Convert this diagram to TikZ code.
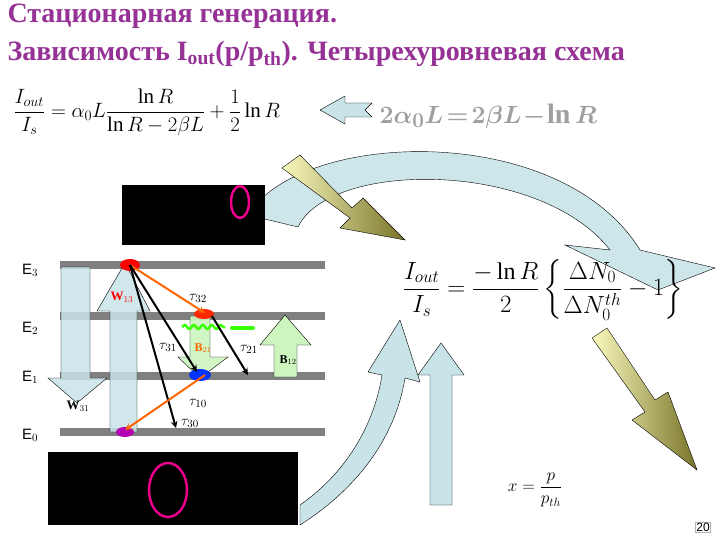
\documentclass[tikz,border=0pt]{standalone}
\usepackage{fontspec}
\usepackage{amsmath}
\setmainfont{Liberation Serif}
\newfontfamily\arialf{Liberation Sans}
\usetikzlibrary{decorations.pathmorphing,shapes.geometric}
\definecolor{ttl}{RGB}{150,50,150}
\definecolor{lblue}{RGB}{200,228,232}
\definecolor{lgreen}{RGB}{205,245,190}
\definecolor{barg}{RGB}{128,128,128}
\definecolor{olive}{RGB}{120,115,40}
\definecolor{ylw}{RGB}{250,250,190}
\tikzset{bar/.style={fill=barg,draw=none},
 lvl/.style={font=\arialf\fontsize{15}{15}\selectfont},
 tau/.style={font=\fontsize{15}{15}\selectfont},
 blk/.style={fill=black,draw=none},
 ring/.style={draw=magenta,line width=2.5pt},
 barr/.style={draw=black,line width=0.4pt},
 bk/.style={draw=black,line width=2pt,-stealth},
 og/.style={draw=orange!80!red,line width=2pt,-stealth}}
\begin{document}
\begin{tikzpicture}[x=1pt,y=-1pt]
\useasboundingbox (0,0) rectangle (720,540);
\fill[white] (0,0) rectangle (720,540);
% title
\node[anchor=west,text=ttl,font=\bfseries\fontsize{28}{28}\selectfont] (t1) at (4,16) {Стационарная генерация.};
\node[anchor=west,text=ttl,font=\bfseries\fontsize{28}{28}\selectfont] (t2) at (4,54) {Зависимость I\textsubscript{out}(p/p\textsubscript{th}). Четырехуровневая схема};
% top formula
\node[anchor=west,font=\fontsize{21}{21}\selectfont] (f1) at (10,112) {$\dfrac{I_{out}}{I_s}=\alpha_0L\dfrac{\ln R}{\ln R-2\beta L}+\dfrac{1}{2}\ln R$};
% big curved arrow top
\path[barr,fill=lblue,fill opacity=0.9] (248,215) .. controls (300,130) and (560,120) .. (640,250) -- (715,268) -- (658,290) -- (565,245) -- (610,250) .. controls (540,160) and (330,160) .. (298,227) -- cycle;
% left arrow
\path[barr,fill=lblue] (320,110) -- (345,96) -- (345,103) -- (372,103) -- (365,110) -- (372,117) -- (345,117) -- (345,124) -- cycle;
\node[anchor=west,text=gray!75,font=\bfseries\itshape\fontsize{28}{28}\selectfont] (g1) at (376,116) {$\boldsymbol{2\alpha_0 L\!=\!2\beta L\!-\!\ln R}$};
% black rect top
\fill[blk] (122,185) rectangle (265,245);
\draw[ring] (240,202) ellipse (9 and 16);
% yellow arrow upper
\shade[left color=ylw,right color=olive,draw=black,line width=0.4pt] (282,168) -- (300,155) -- (352,208) -- (363,198) -- (405,240) -- (340,228) -- (350,218) -- cycle;
% big formula right
\node[font=\fontsize{24}{24}\selectfont] (f2) at (543,290) {$\dfrac{I_{out}}{I_s}=\dfrac{-\ln R}{2}\left\{\dfrac{\Delta N_0}{\Delta N_0^{th}}-1\right\}$};
% lower curved arrow
\path[barr,fill=lblue] (300,505) .. controls (350,470) and (375,420) .. (382,375) -- (368,372) -- (400,320) -- (420,382) -- (405,378) .. controls (395,440) and (355,490) .. (300,525) -- cycle;
% up arrow
\path[barr,fill=lblue] (430,505) -- (430,375) -- (418,375) -- (441,343) -- (464,375) -- (452,375) -- (452,505) -- cycle;
% lower yellow arrow
\shade[left color=ylw,right color=olive,draw=black,line width=0.4pt] (592,338) -- (607,328) -- (655,400) -- (668,392) -- (697,470) -- (632,420) -- (645,412) -- cycle;
\node[font=\fontsize{18}{18}\selectfont] (f3) at (535,490) {$x=\dfrac{p}{p_{th}}$};
\node[draw=gray!60,font=\arialf\fontsize{12}{12}\selectfont,inner sep=1pt] (pg) at (703,527) {20};
% bottom black rect
\fill[blk] (48,452) rectangle (298,525);
\draw[ring] (168,490) ellipse (19 and 27);
% levels
\foreach \yy in {265,316,376,432} \fill[bar] (60,\yy-4) rectangle (325,\yy+4);
\node[lvl] (e3) at (30,270) {E$_3$};
\node[lvl] (e2) at (30,328) {E$_2$};
\node[lvl] (e1) at (30,377) {E$_1$};
\node[lvl] (e0) at (30,435) {E$_0$};
% W31 down
\path[barr,fill=lblue,fill opacity=0.85] (61,267) -- (90,267) -- (90,378) -- (107,378) -- (77,403) -- (48,378) -- (61,378) -- cycle;
\node[font=\bfseries\fontsize{13}{13}\selectfont] (w31) at (78,406) {W$_{31}$};
% W13 up
\path[barr,fill=lblue,fill opacity=0.85] (110,432) -- (137,432) -- (137,311) -- (150,311) -- (125,263) -- (97,311) -- (110,311) -- cycle;
\node[text=red,font=\bfseries\fontsize{13}{13}\selectfont] (w13) at (122,297) {W$_{13}$};
% B21 down
\path[barr,fill=lgreen,fill opacity=0.9] (190,316) -- (210,316) -- (210,357) -- (228,357) -- (200,378) -- (178,357) -- (190,357) -- cycle;
% B12 up
\path[barr,fill=lgreen] (274,377) -- (297,377) -- (297,345) -- (311,345) -- (285,315) -- (260,345) -- (274,345) -- cycle;
\node[font=\bfseries\fontsize{12}{12}\selectfont] (b12) at (288,360) {B$_{12}$};
% blobs
\fill[red] (130,265) ellipse (10 and 6);
\fill[red!70!orange] (204,314) ellipse (10 and 5);
\fill[blue!80!cyan] (200,375) ellipse (11 and 6);
\fill[violet!60!magenta] (125,432) ellipse (9 and 5);
% green wave
\draw[green!70!lime,line width=2.5pt,decorate,decoration={snake,amplitude=2pt,segment length=9pt}] (182,327) -- (225,327);
\draw[green!70!lime,line width=4pt,line cap=round] (232,328) -- (253,328);
% transitions
\coordinate (p3) at (130,265);
\coordinate (p2) at (212,316);
\draw[og] (p3) -- (205,313);
\draw[bk] (p3) -- (176,428);
\draw[bk] (p3) -- (197,372);
\draw[bk] (p2) -- (248,375);
\draw[og] (205,375) -- (125,430);
\node[text=orange!80!red,font=\bfseries\fontsize{12}{12}\selectfont] (b21) at (203,348) {B$_{21}$};
\node[tau] (t32) at (198,298) {$\tau_{32}$};
\node[tau] (t31) at (168,347) {$\tau_{31}$};
\node[tau] (t21) at (249,349) {$\tau_{21}$};
\node[tau] (t10) at (198,403) {$\tau_{10}$};
\node[tau] (t30) at (190,423) {$\tau_{30}$};
\end{tikzpicture}
\end{document}
